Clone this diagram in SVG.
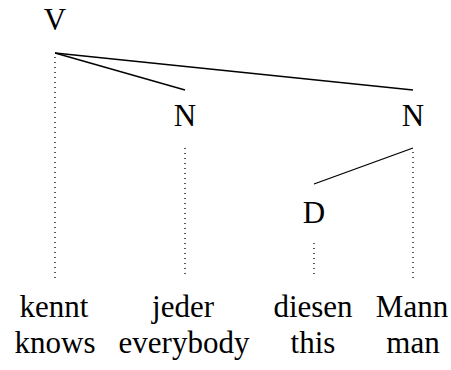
<svg xmlns="http://www.w3.org/2000/svg" width="451" height="370" viewBox="0 0 451 370">
<style>
text{font-family:'Liberation Serif','Times New Roman',serif;font-size:31px;fill:#000;text-anchor:middle}
.e{stroke:#000;stroke-width:1.3;fill:none}
.d{stroke:#000;stroke-width:1.3;fill:none;stroke-dasharray:1 4}
</style>
<rect width="451" height="370" fill="#fff"/>
<g id="connectors">
<line class="e" x1="55" y1="53" x2="185" y2="90"/>
<line class="e" x1="55" y1="53" x2="413" y2="90"/>
<line class="e" x1="413" y1="148" x2="314" y2="184"/>
<line class="d" x1="55" y1="57" x2="55" y2="278"/>
<line class="d" x1="185" y1="148" x2="185" y2="278"/>
<line class="d" x1="413" y1="152" x2="413" y2="278"/>
<line class="d" x1="314" y1="243" x2="314" y2="278"/>
</g>
<g id="V"><text x="55" y="30">V</text></g>
<g id="N1"><text x="185" y="126">N</text></g>
<g id="N2"><text x="413" y="126">N</text></g>
<g id="D"><text x="314" y="223">D</text></g>
<g id="w1"><text x="54" y="317">kennt</text><text x="55" y="353">knows</text></g>
<g id="w2"><text x="183" y="317">jeder</text><text x="184" y="353">everybody</text></g>
<g id="w3"><text x="313" y="317">diesen</text><text x="313" y="353">this</text></g>
<g id="w4"><text x="412" y="317">Mann</text><text x="413" y="353">man</text></g>
</svg>
